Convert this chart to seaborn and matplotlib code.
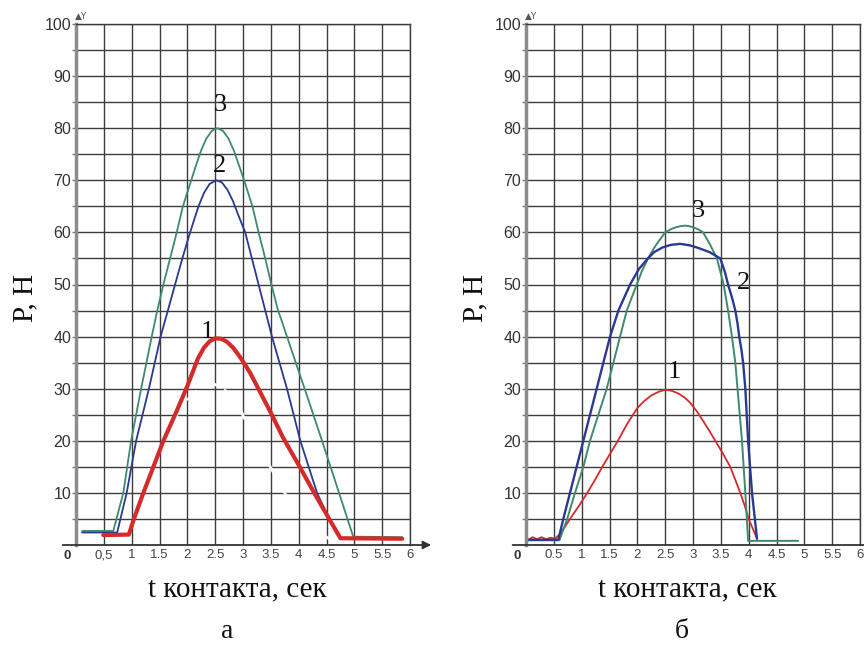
import matplotlib
matplotlib.use("Agg")
import matplotlib.pyplot as plt
import seaborn as sns
import pandas as pd

# ---------------- data ----------------
# panel "а"
a1_x = [0.49, 0.95, 1.04, 1.21, 1.39, 1.57, 1.80, 2.00, 2.19, 2.30, 2.40, 2.50, 2.60, 2.70, 2.82, 2.94, 3.05, 3.13, 3.49, 3.72, 4.03, 4.30, 4.57, 4.75, 5.86]
a1_y = [1.9, 2.0, 5.0, 10.0, 15.0, 20.0, 25.5, 30.5, 35.8, 37.9, 39.1, 39.65, 39.6, 39.1, 37.9, 36.2, 34.4, 33.0, 25.6, 20.6, 14.8, 9.6, 4.6, 1.3, 1.2]

a2_x = [0.11, 0.74, 0.91, 1.08, 1.31, 1.52, 1.65, 1.78, 1.91, 2.05, 2.20, 2.30, 2.40, 2.52, 2.62, 2.72, 2.82, 2.92, 3.04, 3.16, 3.28, 3.40, 3.52, 3.79, 4.03, 4.33, 4.53, 4.75, 5.86]
a2_y = [2.4, 2.4, 10.0, 20.0, 30.0, 40.0, 45.0, 50.0, 55.0, 60.0, 65.0, 67.6, 69.3, 70.0, 69.6, 68.2, 66.0, 63.2, 60.0, 55.0, 50.0, 45.0, 40.0, 30.0, 20.0, 10.0, 5.4, 1.3, 1.2]

a3_x = [0.11, 0.67, 0.85, 0.99, 1.17, 1.36, 1.46, 1.57, 1.69, 1.81, 1.92, 2.07, 2.16, 2.25, 2.34, 2.44, 2.54, 2.64, 2.74, 2.84, 2.93, 3.02, 3.17, 3.28, 3.40, 3.51, 3.63, 3.68, 3.79, 3.97, 4.12, 4.42, 4.71, 4.98, 5.86]
a3_y = [2.7, 2.7, 10.0, 20.0, 30.0, 40.0, 45.0, 50.0, 55.0, 60.0, 65.0, 70.0, 73.0, 75.8, 78.0, 79.5, 80.0, 79.5, 78.0, 75.6, 72.8, 70.0, 65.0, 60.0, 55.0, 50.0, 45.0, 43.5, 40.0, 34.3, 29.6, 20.0, 10.5, 1.6, 1.5]

a0_x = [1.72, 1.82, 2.00, 2.25, 2.47, 2.70, 2.98, 3.18, 3.49, 4.00, 4.57]
a0_y = [20.0, 25.4, 27.9, 30.3, 31.0, 29.5, 25.4, 20.0, 15.0, 5.2, 1.0]

# panel "б"
b1_x = [0.04, 0.12, 0.20, 0.28, 0.36, 0.44, 0.52, 0.60, 0.70, 0.79, 0.95, 1.10, 1.24, 1.37, 1.51, 1.65, 1.82, 2.00, 2.12, 2.25, 2.38, 2.50, 2.62, 2.75, 2.85, 2.95, 3.08, 3.20, 3.30, 3.40, 3.54, 3.67, 3.76, 3.85, 3.93, 4.00, 4.08, 4.15]
b1_y = [1.0, 1.5, 1.1, 1.5, 1.1, 1.4, 1.2, 2.0, 3.5, 5.0, 7.5, 10.0, 12.5, 15.0, 17.5, 20.0, 23.3, 26.3, 27.6, 28.7, 29.4, 29.8, 29.6, 29.0, 28.3, 27.3, 25.5, 23.5, 21.8, 20.0, 17.5, 15.0, 12.5, 10.0, 7.5, 5.0, 3.0, 1.2]

b2_x = [0.00, 0.58, 0.67, 0.79, 0.91, 1.03, 1.15, 1.27, 1.39, 1.51, 1.66, 1.87, 2.03, 2.19, 2.30, 2.45, 2.60, 2.77, 2.95, 3.10, 3.30, 3.49, 3.57, 3.63, 3.70, 3.76, 3.80, 3.83, 3.87, 3.90, 3.94, 3.99, 4.06, 4.15]
b2_y = [1.0, 1.0, 5.0, 10.0, 15.0, 20.0, 25.0, 30.0, 35.0, 40.0, 45.0, 50.0, 53.0, 55.0, 56.2, 57.1, 57.6, 57.8, 57.5, 57.0, 56.2, 55.0, 52.5, 50.0, 47.5, 45.0, 42.5, 40.0, 37.5, 35.0, 30.0, 20.0, 10.0, 1.2]

b3_x = [0.00, 0.60, 0.74, 0.88, 1.03, 1.15, 1.30, 1.45, 1.57, 1.69, 1.81, 1.99, 2.08, 2.19, 2.33, 2.50, 2.62, 2.70, 2.78, 2.86, 2.93, 3.00, 3.09, 3.18, 3.30, 3.43, 3.49, 3.55, 3.63, 3.70, 3.76, 3.80, 3.88, 3.94, 3.99, 4.89]
b3_y = [0.9, 0.9, 5.0, 10.0, 15.0, 20.0, 25.0, 30.0, 35.0, 40.0, 45.0, 50.0, 52.5, 55.0, 57.5, 60.0, 60.7, 61.0, 61.2, 61.3, 61.2, 61.0, 60.6, 60.0, 57.8, 55.0, 52.5, 50.0, 45.0, 40.0, 35.0, 30.0, 20.0, 10.0, 0.8, 0.8]

x_ticks = [0, 0.5, 1, 1.5, 2, 2.5, 3, 3.5, 4, 4.5, 5, 5.5, 6]
xlabels_a = ["", "0,5", "1", "1.5", "2", "2.5", "3", "3.5", "4", "4.5", "5", "5.5", "6"]
xlabels_b = ["", "0.5", "1", "1.5", "2", "2.5", "3", "3.5", "4", "4.5", "5", "5.5", "6"]
y_major = [10, 20, 30, 40, 50, 60, 70, 80, 90, 100]
y_minor = [5, 15, 25, 35, 45, 55, 65, 75, 85, 95]

curve_labels_a = [("1", 2.36, 40.8), ("2", 2.57, 72.7), ("3", 2.59, 84.4)]
curve_labels_b = [("1", 2.66, 33.3), ("2", 3.90, 50.2), ("3", 3.09, 64.2)]

# ---------------- style ----------------
sns.set_theme(style="white")
plt.rcParams["font.family"] = ["Liberation Sans", "DejaVu Sans"]
SERIF = ["Liberation Serif", "DejaVu Serif"]

RED = "#d42a2a"
BLUE = "#2b3990"
GREEN = "#3f8a6c"
GRID = "#3c3c3c"

fig = plt.figure(figsize=(8.64, 6.46), dpi=100)
W, H = 864, 646
ax_a = fig.add_axes([76 / W, 1 - 545 / H, 334 / W, 521 / H])
ax_b = fig.add_axes([526 / W, 1 - 545 / H, 334 / W, 521 / H])


def frame(ax, xlabels, panel_letter, letter_x):
    ax.set_xlim(0, 6)
    ax.set_ylim(0, 100)
    ax.set_xticks(x_ticks)
    ax.set_xticklabels(xlabels)
    ax.set_yticks(y_major)
    ax.set_yticks(y_minor, minor=True)
    ax.grid(which="both", color=GRID, linewidth=1.0)
    ax.set_axisbelow(True)
    ax.tick_params(axis="x", length=0, pad=3, labelsize=9.5, labelcolor="#444444")
    ax.tick_params(axis="y", which="both", left=True, length=3, width=1, color="#777777",
                   direction="out", pad=0.5, labelsize=11.5, labelcolor="#333333")
    for s in ("top", "right"):
        ax.spines[s].set_color(GRID)
        ax.spines[s].set_linewidth(1.0)
    ax.spines["left"].set_color("#8c8c8c")
    ax.spines["left"].set_linewidth(2.5)
    ax.spines["bottom"].set_visible(False)
    # x axis with arrow
    ax.annotate("", xy=(6.38, 0), xytext=(-0.24, 0), xycoords="data",
                arrowprops=dict(arrowstyle="-|>", color="#333333", lw=1.3,
                                mutation_scale=12, shrinkA=0, shrinkB=0),
                annotation_clip=False)
    ax.annotate("0", xy=(0, 0), xytext=(-6, -8), textcoords="offset points",
                ha="center", va="center", fontsize=9.5, fontweight="bold", color="#333333",
                annotation_clip=False)
    ax.annotate("▲Y", xy=(0, 100), xytext=(-1, 2), textcoords="offset points",
                ha="left", va="bottom", fontsize=6.5, color="#555555",
                family=["DejaVu Sans"], annotation_clip=False)
    ax.set_xlabel("t контакта, сек", family=SERIF, fontsize=21, color="#111111")
    ax.xaxis.set_label_coords(0.482, -0.060)
    ax.set_ylabel("Р, Н", family=SERIF, fontsize=21, color="#111111")
    ax.yaxis.set_label_coords(-0.112, 0.474)
    ax.text(letter_x, -0.179, panel_letter, transform=ax.transAxes, ha="center",
            va="baseline", family=SERIF, fontsize=20, color="#111111")


def draw(ax, x, y, color, lw, **kw):
    df = pd.DataFrame({"t": x, "P": y})
    sns.lineplot(data=df, x="t", y="P", ax=ax, color=color, linewidth=lw,
                 estimator=None, sort=False, legend=False, **kw)
    ax.lines[-1].set_solid_joinstyle("round")


# panel а
draw(ax_a, a0_x, a0_y, "white", 2.0, dashes=[(5, 3)], style=[0] * len(a0_x))
draw(ax_a, a3_x, a3_y, GREEN, 1.3)
draw(ax_a, a2_x, a2_y, BLUE, 1.3)
draw(ax_a, a1_x, a1_y, RED, 3.0)
frame(ax_a, xlabels_a, "а", 0.452)
for txt, x, y in curve_labels_a:
    ax_a.text(x, y, txt, ha="center", va="center", family=SERIF, fontsize=19, color="#111111")

# panel б
draw(ax_b, b1_x, b1_y, RED, 1.3)
draw(ax_b, b3_x, b3_y, GREEN, 1.4)
draw(ax_b, b2_x, b2_y, BLUE, 1.7)
frame(ax_b, xlabels_b, "б", 0.467)
for txt, x, y in curve_labels_b:
    ax_b.text(x, y, txt, ha="center", va="center", family=SERIF, fontsize=19, color="#111111")

fig.savefig("out.png", dpi=100)
